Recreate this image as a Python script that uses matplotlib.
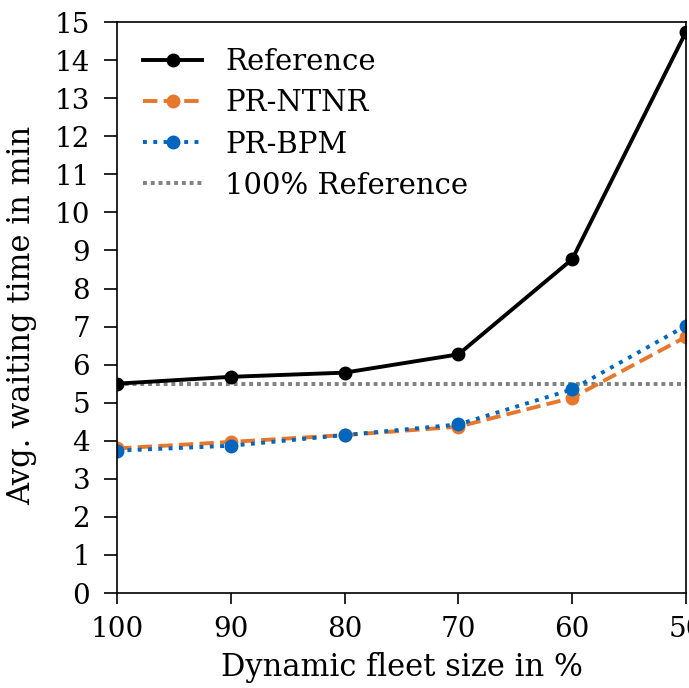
import matplotlib
matplotlib.use("Agg")
import matplotlib.pyplot as plt

# Daten
fleet_size = [100, 90, 80, 70, 60, 50]
reference = [5.50, 5.68, 5.79, 6.27, 8.77, 14.74]
pr_ntnr = [3.80, 3.97, 4.15, 4.37, 5.13, 6.73]
pr_bpm = [3.74, 3.87, 4.15, 4.43, 5.35, 7.02]
ref_100 = reference[0]
y_ticks = list(range(0, 16))

plt.rcParams['font.family'] = 'DejaVu Serif'
plt.rcParams['font.size'] = 20
plt.rcParams['xtick.major.size'] = 8
plt.rcParams['ytick.major.size'] = 9.4
plt.rcParams['xtick.major.width'] = 1.2
plt.rcParams['ytick.major.width'] = 1.2
plt.rcParams['xtick.major.pad'] = 8.5
plt.rcParams['ytick.major.pad'] = 10
plt.rcParams['axes.linewidth'] = 1.2

fig, ax = plt.subplots(figsize=(6.89, 6.88), dpi=100)
ax.plot(fleet_size, reference, '-', color='black', lw=2.8, marker='o', ms=9, label="Reference")
ax.plot(fleet_size, pr_ntnr, '--', color='#E8772E', lw=2.8, marker='o', ms=9, label="PR-NTNR")
ax.plot(fleet_size, pr_bpm, ':', color='#0065BD', lw=2.8, marker='o', ms=9, label="PR-BPM")
ax.plot(fleet_size, [ref_100] * len(fleet_size), color='grey', lw=2.8,
        dashes=(1, 1), zorder=1.5, label="100% Reference")

ax.set_xlim(100, 50)
ax.set_ylim(0, 15)
ax.set_yticks(y_ticks)
ax.set_xlabel("Dynamic fleet size in %", fontsize=22, labelpad=6.5)
ax.set_ylabel("Avg. waiting time in min", fontsize=22)
ax.yaxis.set_label_coords(-0.14, 0.486)
ax.legend(loc='upper left', frameon=False, fontsize=21, borderaxespad=0.5, labelspacing=0.45)

fig.subplots_adjust(left=0.17, right=0.9956, top=0.968, bottom=0.138)
fig.savefig("out.png")
